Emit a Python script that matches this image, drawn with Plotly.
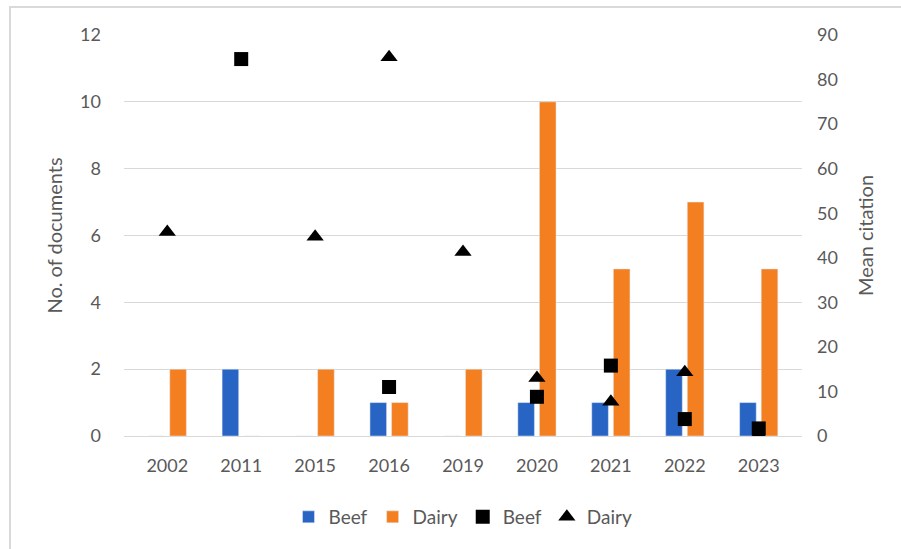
import plotly.graph_objects as go

years = ["2002", "2011", "2015", "2016", "2019", "2020", "2021", "2022", "2023"]
beef_docs = [0, 2, 0, 1, 0, 1, 1, 2, 1]
dairy_docs = [2, 0, 2, 1, 2, 10, 5, 7, 5]
beef_cit = [None, 84.6, None, 11.0, None, 8.8, 15.8, 3.8, 1.7]
dairy_cit = [45.8, None, 44.7, 85.0, 41.3, 13.0, 7.7, 14.3, 0.3]

FONT = "Lato, Liberation Sans, sans-serif"
GRAY = "#595959"

fig = go.Figure()
fig.add_trace(go.Bar(x=years, y=beef_docs, name="Beef", marker_color="#2864C4"))
fig.add_trace(go.Bar(x=years, y=dairy_docs, name="Dairy", marker_color="#F47F20"))
fig.add_trace(go.Scatter(x=years, y=beef_cit, name="Beef", mode="markers", yaxis="y2",
                         marker=dict(symbol="square", size=14, color="black")))
fig.add_trace(go.Scatter(x=years, y=dairy_cit, name="Dairy", mode="markers", yaxis="y2",
                         marker=dict(symbol="triangle-up", size=15, color="black")))

fig.update_layout(
    width=901, height=549,
    margin=dict(l=124, r=99, t=35, b=113),
    paper_bgcolor="white", plot_bgcolor="white",
    barmode="group", bargap=0.416, bargroupgap=0.23,
    font=dict(family=FONT, color=GRAY, size=18),
    xaxis=dict(showgrid=False, ticks="", ticklabelstandoff=17, tickfont=dict(size=18, color=GRAY)),
    yaxis=dict(range=[0, 12], dtick=2, showgrid=True, gridcolor="#D9D9D9", gridwidth=1.3,
               zeroline=True, zerolinecolor="#D9D9D9", zerolinewidth=1.3,
               ticklabelstandoff=22, tickfont=dict(size=18, color=GRAY),
               title=dict(text="No. of documents", font=dict(size=20, color=GRAY), standoff=12)),
    yaxis2=dict(range=[0, 90], dtick=10, overlaying="y", side="right", showgrid=False,
                zeroline=False, ticklabelstandoff=14, tickfont=dict(size=18, color=GRAY),
                title=dict(text="Mean citation", font=dict(size=20, color=GRAY), standoff=22)),
    legend=dict(orientation="h", x=0.5, xanchor="center", y=-0.202, yanchor="middle",
                font=dict(size=19, color=GRAY), itemwidth=30, tracegroupgap=0),
    showlegend=True,
    shapes=[dict(type="rect", xref="paper", yref="paper",
                 x0=(10 - 124) / 678, x1=(915 - 124) / 678,
                 y0=(436 - 565) / 401, y1=(436 - 7) / 401,
                 line=dict(color="#D9D9D9", width=2), fillcolor="rgba(0,0,0,0)", layer="below")],
)

fig.write_html("out.html")
